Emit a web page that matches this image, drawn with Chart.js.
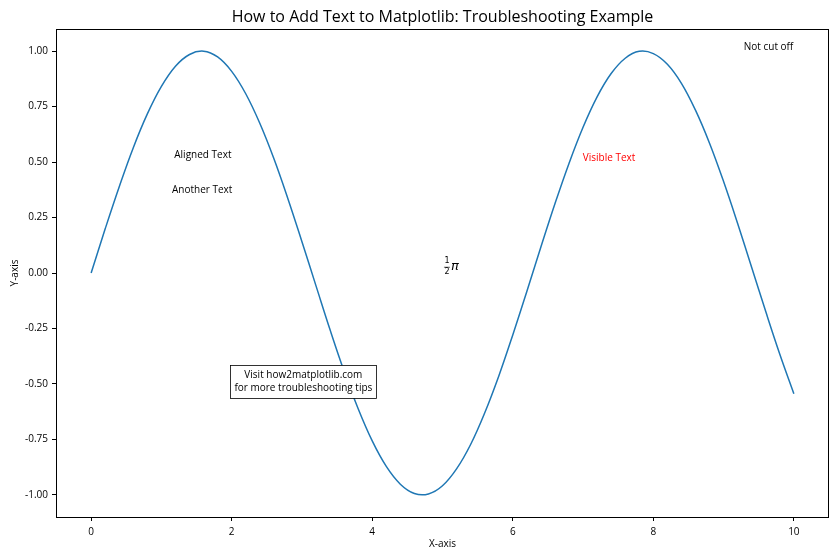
<!DOCTYPE html>
<html>
<head>
<meta charset="utf-8">
<script src="https://cdn.jsdelivr.net/npm/chart.js@4"></script>
<style>
html,body{margin:0;padding:0;background:#fff;}
#wrap{width:840px;height:560px;}
</style>
</head>
<body>
<div id="wrap"><canvas id="c" width="840" height="560"></canvas></div>
<script>
const xValues = [0,0.2,0.4,0.6,0.8,1.0,1.2,1.4,1.6,1.8,2.0,2.2,2.4,2.6,2.8,3.0,3.2,3.4,3.6,3.8,4.0,4.2,4.4,4.6,4.8,5.0,5.2,5.4,5.6,5.8,6.0,6.2,6.4,6.6,6.8,7.0,7.2,7.4,7.6,7.8,8.0,8.2,8.4,8.6,8.8,9.0,9.2,9.4,9.6,9.8,10.0];
const yValues = [0,0.199,0.389,0.565,0.717,0.841,0.932,0.985,1.000,0.974,0.909,0.808,0.675,0.516,0.335,0.141,-0.058,-0.256,-0.443,-0.612,-0.757,-0.872,-0.952,-0.994,-0.996,-0.959,-0.883,-0.773,-0.631,-0.465,-0.279,-0.083,0.117,0.312,0.494,0.657,0.794,0.899,0.968,0.999,0.989,0.941,0.855,0.734,0.585,0.412,0.223,0.025,-0.174,-0.366,-0.544];
const xTicks = [0,2,4,6,8,10];
const yTicks = [-1.00,-0.75,-0.50,-0.25,0.00,0.25,0.50,0.75,1.00];
const titleText = "How to Add Text to Matplotlib: Troubleshooting Example";
const xLabel = "X-axis";
const yLabel = "Y-axis";
const annotations = [
  {text:"Aligned Text", x:1.59, y:0.53, color:"#000"},
  {text:"Another Text", x:1.58, y:0.372, color:"#000"},
  {text:"Visible Text", x:7.37, y:0.518, color:"#ff0000"},
  {text:"Not cut off", x:9.64, y:1.02, color:"#000"}
];
const boxLines = ["Visit how2matplotlib.com","for more troubleshooting tips"];
const boxPos = {x:3.02, y:-0.49};
const mathPos = {x:5.12, y:0.03};

const FONT = '"Open Sans","Noto Sans","DejaVu Sans",sans-serif';

const points = xValues.map((x,i)=>({x:x,y:yValues[i]}));

const overlay = {
  id:'overlay',
  afterDraw(chart){
    const ctx = chart.ctx;
    const a = chart.chartArea;
    const sx = chart.scales.x, sy = chart.scales.y;
    ctx.save();
    ctx.strokeStyle = '#000';
    ctx.lineWidth = 1;
    ctx.strokeRect(Math.round(a.left)+0.5, Math.round(a.top)+0.5, Math.round(a.right-a.left)-1, Math.round(a.bottom-a.top));
    ctx.fillStyle = '#000';
    ctx.textAlign = 'center';
    ctx.textBaseline = 'middle';
    ctx.font = '16px ' + FONT;
    ctx.fillText(titleText, (a.left+a.right)/2, 17);
    ctx.font = '10px ' + FONT;
    ctx.fillText(xLabel, (a.left+a.right)/2, 544);
    ctx.save();
    ctx.translate(15, (a.top+a.bottom)/2);
    ctx.rotate(-Math.PI/2);
    ctx.fillText(yLabel, 0, 0);
    ctx.restore();
    annotations.forEach(t=>{
      ctx.fillStyle = t.color;
      ctx.fillText(t.text, sx.getPixelForValue(t.x), sy.getPixelForValue(t.y));
    });
    const bx = sx.getPixelForValue(boxPos.x), by = sy.getPixelForValue(boxPos.y);
    let w = 0;
    boxLines.forEach(l=>{ w = Math.max(w, ctx.measureText(l).width); });
    const lh = 12.5;
    const bw = w + 8, bh = lh*boxLines.length + 8;
    ctx.fillStyle = '#fff';
    ctx.fillRect(bx-bw/2, by-bh/2, bw, bh);
    ctx.strokeStyle = '#000';
    ctx.lineWidth = 0.8;
    ctx.strokeRect(Math.round(bx-bw/2)+0.5, Math.round(by-bh/2)+0.5, Math.round(bw), Math.round(bh));
    ctx.fillStyle = '#000';
    boxLines.forEach((l,i)=>{
      ctx.fillText(l, bx, by - lh*(boxLines.length-1)/2 + i*lh);
    });
    const mx = sx.getPixelForValue(mathPos.x), my = sy.getPixelForValue(mathPos.y);
    ctx.font = '8px "DejaVu Sans",sans-serif';
    ctx.fillText('1', mx-4, my-5);
    ctx.fillText('2', mx-4, my+6);
    ctx.fillRect(mx-7, my+0.5, 6, 0.6);
    ctx.font = 'italic 13px "DejaVu Sans",sans-serif';
    ctx.textAlign = 'left';
    ctx.fillText('π', mx, my);
    ctx.restore();
  }
};

new Chart(document.getElementById('c'), {
  type:'scatter',
  data:{
    datasets:[{
      data:points,
      showLine:true,
      borderColor:'#1f77b4',
      borderWidth:1.5,
      pointRadius:0,
      tension:0.4,
      fill:false
    }]
  },
  options:{
    responsive:false,
    animation:false,
    layout:{padding:{top:29,right:11,left:0,bottom:0}},
    plugins:{legend:{display:false},title:{display:false},tooltip:{enabled:false}},
    scales:{
      x:{
        type:'linear',
        min:-0.5,max:10.5,
        afterBuildTicks(s){ s.ticks = xTicks.map(v=>({value:v})); },
        afterFit(s){ s.height = 43; },
        grid:{drawOnChartArea:false,drawTicks:true,tickLength:4,color:'#000'},
        border:{display:false},
        ticks:{color:'#000',font:{size:10,family:FONT},padding:5,maxRotation:0,callback:v=>String(v)}
      },
      y:{
        type:'linear',
        min:-1.0998,max:1.0998,
        afterBuildTicks(s){ s.ticks = yTicks.map(v=>({value:v})); },
        afterFit(s){ s.width = 56; },
        grid:{drawOnChartArea:false,drawTicks:true,tickLength:4,color:'#000'},
        border:{display:false},
        ticks:{color:'#000',font:{size:10,family:FONT},padding:4,callback:v=>Number(v).toFixed(2)}
      }
    }
  },
  plugins:[overlay]
});
</script>
</body>
</html>
